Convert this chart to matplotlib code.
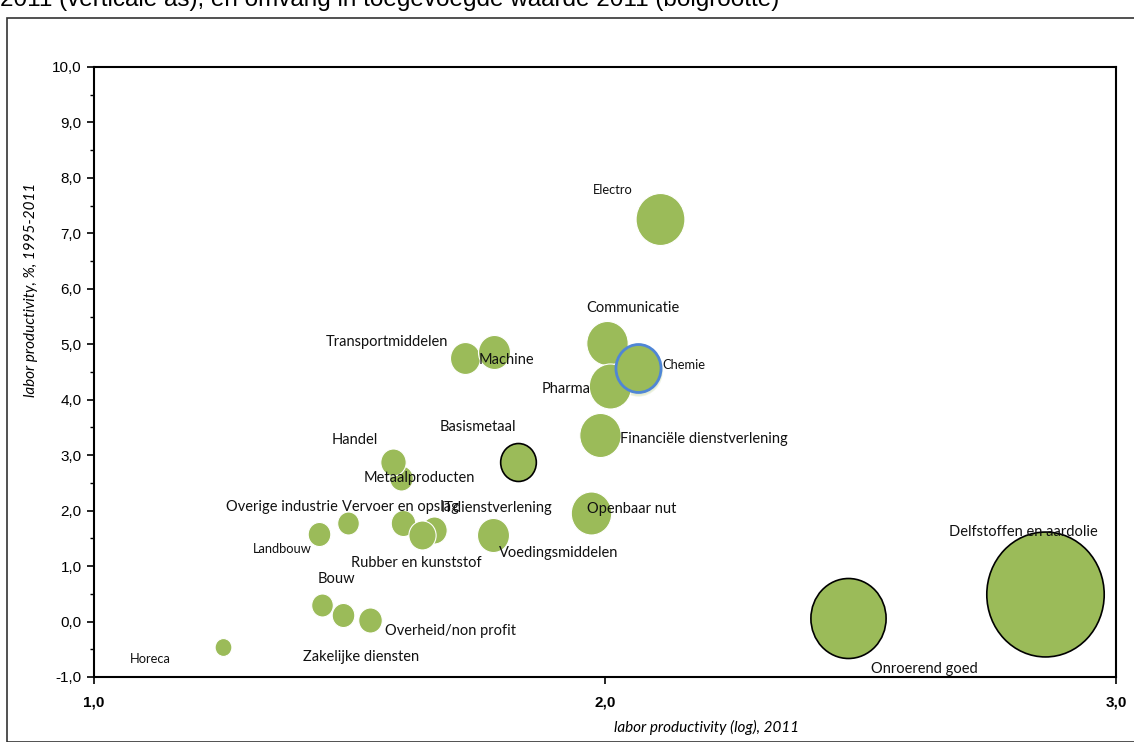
import numpy as np
import matplotlib.pyplot as plt
from matplotlib.path import Path
from matplotlib.markers import MarkerStyle
from matplotlib.transforms import Affine2D
from matplotlib.patches import Rectangle

# sectoren, in tekenvolgorde (overlap)
sectors = ['Electro', 'Communicatie', 'Pharma', 'Chemie', 'Financiële dienstverlening',
           'Transportmiddelen', 'Machine', 'Basismetaal', 'Metaalproducten', 'Handel',
           'Overige industrie', 'Landbouw', 'Vervoer en opslag', 'IT dienstverlening',
           'Rubber en kunststof', 'Voedingsmiddelen', 'Openbaar nut', 'Bouw',
           'Zakelijke diensten', 'Overheid/non profit', 'Horeca', 'Onroerend goed',
           'Delfstoffen en aardolie']
# arbeidsproductiviteit (log), 2011
level_2011 = [2.107, 2.003, 2.009, 2.064, 1.991,
              1.727, 1.782, 1.829, 1.600, 1.585,
              1.497, 1.440, 1.604, 1.665,
              1.641, 1.780, 1.972, 1.446,
              1.487, 1.540, 1.253, 2.476,
              2.861]
# groei arbeidsproductiviteit, %, 1995-2011
growth = [7.26, 5.02, 4.24, 4.57, 3.37,
          4.75, 4.86, 2.88, 2.59, 2.88,
          1.78, 1.58, 1.78, 1.65,
          1.56, 1.56, 1.96, 0.30,
          0.12, 0.03, -0.46, 0.06,
          0.50]
# toegevoegde waarde 2011 (bolgrootte)
value_added = [27.0, 19.4, 20.3, 23.0, 19.4,
               10.2, 11.6, 14.4, 6.3, 7.3,
               5.3, 5.8, 6.8, 7.3,
               8.4, 11.6, 18.5, 5.3,
               5.8, 6.3, 3.2, 64.0,
               156.0]

# label positie t.o.v. bol (pixels: rechts, omhoog)
label_offset = [(-47, 29), (26, 35), (-43, -3), (46, 3), (103, -4),
                (-79, 16), (13, -8), (-40, 35), (19, 0), (-38, 22),
                (-66, 16), (-37, -15), (-2, 16), (63, 22),
                (-5, -28), (66, -18), (41, 4), (15, 26),
                (18, -42), (81, -11), (-73, -12), (76, -51),
                (-22, 62)]
small_labels = {'Electro', 'Chemie', 'Landbouw', 'Horeca'}
edge = {'Basismetaal': 'black', 'Onroerend goed': 'black',
        'Delfstoffen en aardolie': 'black', 'Chemie': '#4f86d6'}

green = '#9bbb59'
ellipse = MarkerStyle(Path.unit_circle().transformed(Affine2D().scale(0.94, 1.0)))

fig = plt.figure(figsize=(11.34, 7.42), dpi=100)
ax = fig.add_axes([94 / 1134, 1 - 677 / 742, (1116 - 94) / 1134, (677 - 67) / 742])

for i, name in enumerate(sectors):
    s = value_added[i] * 100 * 0.72 ** 2
    ec = edge.get(name, 'white')
    lw = 2.0 if name == 'Chemie' else (1.2 if ec == 'black' else 0.8)
    if name == 'Chemie':
        for k in range(4):
            ax.scatter(level_2011[i], growth[i] - 0.03, s=s * (1.05 + 0.05 * k),
                       marker=ellipse, color='#dfe9c8', alpha=0.35, lw=0, zorder=2 + i * 0.01)
    ax.scatter(level_2011[i], growth[i], s=s, marker=ellipse, color=green,
               edgecolors=ec, linewidths=lw, zorder=3 + i * 0.01)
    dx, dy = label_offset[i]
    ax.annotate(name.replace('IT dienstverlening', 'ITdienstverlening'),
                (level_2011[i], growth[i]), xytext=(dx * 0.72, dy * 0.72),
                textcoords='offset points', ha='center', va='center',
                fontsize=9.3 if name in small_labels else 10.5,
                family='Lato', color='#111111', zorder=10)

ax.set_xlim(1.0, 3.0)
ax.set_ylim(-1.0, 10.0)
ax.set_xticks([1.0, 2.0, 3.0])
ax.set_xticklabels(['1,0', '2,0', '3,0'], fontweight='bold', fontsize=11,
                   family='Liberation Sans')
ax.set_yticks(np.arange(-1, 11, 1))
ax.set_yticklabels([f'{v:.1f}'.replace('.', ',') for v in np.arange(-1, 11, 1)],
                   fontsize=11, family='Liberation Sans')
ax.set_yticks(np.arange(-0.5, 10, 1), minor=True)
ax.tick_params(axis='both', direction='out', length=5, width=1.2, pad=4)
ax.tick_params(axis='y', which='minor', length=3, width=1)
ax.tick_params(axis='x', pad=8)
for sp in ax.spines.values():
    sp.set_linewidth(1.5)

ax.set_xlabel('labor productivity (log), 2011', style='italic', family='Lato',
              fontsize=11, labelpad=8, x=0.599)
ax.set_ylabel('labor productivity, %, 1995-2011', style='italic', family='Lato',
              fontsize=11, labelpad=10, y=0.634)

# kader en afgesneden titelregel
fig.patches.append(Rectangle((7 / 1134, 0), 1.1, 1 - 18 / 742, transform=fig.transFigure,
                             fill=False, edgecolor='#333333', lw=1.2))
fig.text(0.0, 1 - 6 / 742, '2011 (verticale as), en omvang in toegevoegde waarde 2011 (bolgrootte)',
         fontsize=17.5, family='Liberation Sans', va='baseline', ha='left')

fig.savefig('out.png', dpi=100)
